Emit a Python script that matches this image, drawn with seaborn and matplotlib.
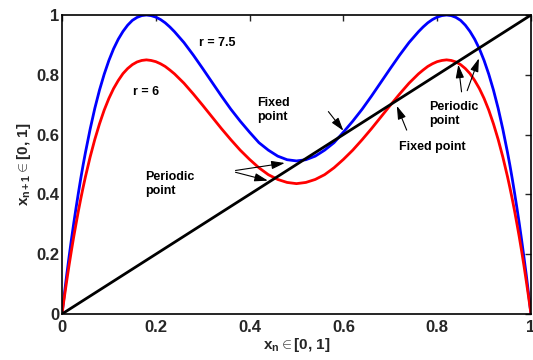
import matplotlib
matplotlib.use("Agg")
import matplotlib.pyplot as plt
import seaborn as sns
import pandas as pd

# ---- data ----
x_vals = [0.000, 0.005, 0.010, 0.015, 0.020, 0.025, 0.030, 0.035, 0.040, 0.045,
          0.050, 0.060, 0.070, 0.080, 0.090, 0.100, 0.110, 0.120, 0.130, 0.140,
          0.150, 0.160, 0.170, 0.180, 0.190, 0.200, 0.210, 0.220, 0.230, 0.240,
          0.260, 0.280, 0.300, 0.320, 0.340, 0.360, 0.380, 0.400, 0.420, 0.440,
          0.460, 0.480, 0.500,
          0.520, 0.540, 0.560, 0.580, 0.600, 0.620, 0.640, 0.660, 0.680, 0.700,
          0.720, 0.740, 0.760, 0.770, 0.780, 0.790, 0.800, 0.810, 0.820, 0.830,
          0.840, 0.850, 0.860, 0.870, 0.880, 0.890, 0.900, 0.910, 0.920, 0.930,
          0.940, 0.950, 0.955, 0.960, 0.965, 0.970, 0.975, 0.980, 0.985, 0.990,
          0.995, 1.000]
blue_r75 = [0.000, 0.066, 0.130, 0.190, 0.248, 0.303, 0.355, 0.405, 0.453, 0.498,
            0.540, 0.618, 0.688, 0.749, 0.802, 0.848, 0.887, 0.919, 0.945, 0.966,
            0.982, 0.992, 0.998, 1.000, 0.998, 0.993, 0.985, 0.974, 0.960, 0.944,
            0.908, 0.866, 0.821, 0.775, 0.729, 0.685, 0.645, 0.608, 0.573, 0.548,
            0.528, 0.516, 0.512,
            0.516, 0.528, 0.548, 0.573, 0.608, 0.645, 0.685, 0.729, 0.775, 0.821,
            0.866, 0.908, 0.944, 0.960, 0.974, 0.985, 0.993, 0.998, 1.000, 0.998,
            0.992, 0.982, 0.966, 0.945, 0.919, 0.887, 0.848, 0.802, 0.749, 0.688,
            0.618, 0.540, 0.498, 0.453, 0.405, 0.355, 0.303, 0.248, 0.190, 0.130,
            0.066, 0.000]
red_r6 = [0.000, 0.056, 0.110, 0.162, 0.211, 0.258, 0.302, 0.345, 0.385, 0.423,
          0.459, 0.525, 0.584, 0.636, 0.682, 0.721, 0.754, 0.781, 0.804, 0.821,
          0.834, 0.843, 0.848, 0.850, 0.848, 0.844, 0.837, 0.828, 0.816, 0.803,
          0.772, 0.736, 0.698, 0.659, 0.620, 0.583, 0.548, 0.517, 0.489, 0.466,
          0.450, 0.440, 0.436,
          0.440, 0.450, 0.466, 0.489, 0.517, 0.548, 0.583, 0.620, 0.659, 0.698,
          0.736, 0.772, 0.803, 0.816, 0.828, 0.837, 0.844, 0.848, 0.850, 0.848,
          0.843, 0.834, 0.821, 0.804, 0.781, 0.754, 0.721, 0.682, 0.636, 0.584,
          0.525, 0.459, 0.423, 0.385, 0.345, 0.302, 0.258, 0.211, 0.162, 0.110,
          0.056, 0.000]
diag_x = [0.0, 1.0]
diag_y = [0.0, 1.0]
tick_vals = [0, 0.2, 0.4, 0.6, 0.8, 1]
tick_labels = ["0", "0.2", "0.4", "0.6", "0.8", "1"]

sns.set_style("white")
plt.rcParams['font.family'] = ['Liberation Sans', 'DejaVu Sans']
plt.rcParams['mathtext.fontset'] = 'custom'
plt.rcParams['mathtext.rm'] = 'Liberation Sans'
plt.rcParams['mathtext.bf'] = 'Liberation Sans:bold'
plt.rcParams['mathtext.it'] = 'Liberation Sans:italic'

fig = plt.figure(figsize=(5.33, 3.6), dpi=100)
ax = fig.add_axes([0.1163, 0.1278, 0.8799, 0.8305])

df = pd.DataFrame({"x": x_vals, "blue": blue_r75, "red": red_r6})
sns.lineplot(data=df, x="x", y="blue", color="#0000ff", lw=2.0, ax=ax, sort=False)
sns.lineplot(data=df, x="x", y="red", color="#ff0000", lw=2.0, ax=ax, sort=False)
sns.lineplot(x=diag_x, y=diag_y, color="black", lw=2.0, ax=ax)

ax.set_xlim(0, 1)
ax.set_ylim(0, 1)
ax.set_xticks(tick_vals)
ax.set_xticklabels(tick_labels)
ax.set_yticks(tick_vals)
ax.set_yticklabels(tick_labels)
ax.tick_params(direction='in', length=4, width=1, top=True, right=True,
               labelsize=12)
ax.tick_params(axis='y', pad=2)
ax.tick_params(axis='x', pad=4)
for lab in ax.get_xticklabels() + ax.get_yticklabels():
    lab.set_fontweight('bold')
for s in ax.spines.values():
    s.set_linewidth(1.2)
    s.set_color('black')

ax.set_xlabel(r'$\mathbf{x_n}$$\in$[0, 1]', fontsize=11, fontweight='bold', labelpad=1)
ax.set_ylabel(r'$\mathbf{x_{n+1}}$$\in$[0, 1]', fontsize=11, fontweight='bold', labelpad=2)

tkw = dict(fontsize=9, fontweight='bold', color='black')
ax.text(0.292, 0.908, "r = 7.5", va='center', ha='left', **tkw)
ax.text(0.151, 0.742, "r = 6", va='center', ha='left', **tkw)
ax.text(0.417, 0.682, "Fixed\npoint", va='center', ha='left', linespacing=1.2, **tkw)
ax.text(0.177, 0.436, "Periodic\npoint", va='center', ha='left', linespacing=1.2, **tkw)
ax.text(0.718, 0.559, "Fixed point", va='center', ha='left', **tkw)
ax.text(0.782, 0.669, "Periodic\npoint", va='center', ha='left', linespacing=1.2, **tkw)

akw = dict(arrowstyle='-|>,head_length=0.8,head_width=0.25', color='black', lw=0.8,
           shrinkA=0, shrinkB=0)
ax.annotate("", xy=(0.600, 0.613), xytext=(0.568, 0.677), arrowprops=akw)
ax.annotate("", xy=(0.475, 0.505), xytext=(0.370, 0.480), arrowprops=akw)
ax.annotate("", xy=(0.439, 0.446), xytext=(0.370, 0.474), arrowprops=akw)
ax.annotate("", xy=(0.714, 0.696), xytext=(0.735, 0.615), arrowprops=akw)
ax.annotate("", xy=(0.845, 0.834), xytext=(0.852, 0.743), arrowprops=akw)
ax.annotate("", xy=(0.889, 0.855), xytext=(0.864, 0.747), arrowprops=akw)

fig.savefig("out.png", dpi=100)
